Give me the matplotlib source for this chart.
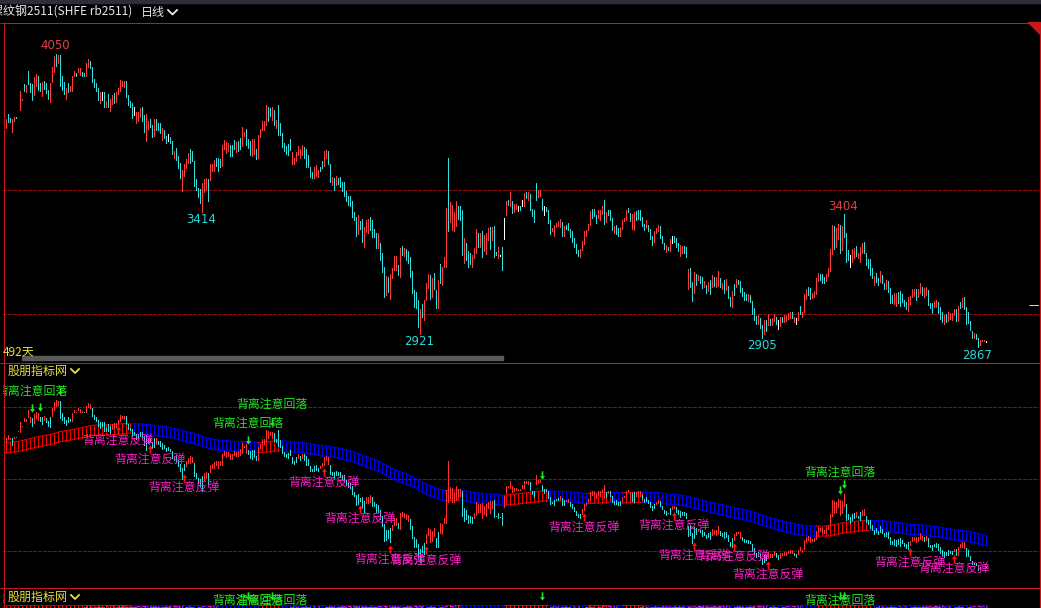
import numpy as np
import matplotlib
matplotlib.use("Agg")
import matplotlib.pyplot as plt
from matplotlib import transforms
from matplotlib.collections import LineCollection
from matplotlib.patches import Rectangle, Polygon
from matplotlib.path import Path

plt.rcParams["font.family"] = ["Noto Sans CJK SC", "DejaVu Sans"]
plt.rcParams["lines.scale_dashes"] = False

W, H = 1041, 608
PX = 0.72  # one pixel in points (dpi 100)

# ---------------- data (daily bars) ----------------
highs = [
    3786, 3807, 3791, 3786, 3797, 3797, 3838, 3901, 3870, 3928,
    3924, 3981, 3933, 3928, 3958, 3969, 3960, 3933, 3935, 3941,
    3931, 3906, 3933, 3996, 4041, 4050, 4046, 4046, 3962, 3938,
    3911, 3933, 3922, 3960, 3981, 3973, 3995, 3992, 3978, 3973,
    4014, 4030, 4023, 3996, 3951, 3933, 3911, 3897, 3897, 3897,
    3861, 3888, 3870, 3884, 3892, 3895, 3911, 3946, 3942, 3942,
    3942, 3884, 3861, 3851, 3834, 3816, 3814, 3830, 3834, 3803,
    3807, 3780, 3786, 3762, 3789, 3786, 3770, 3770, 3753, 3743,
    3719, 3726, 3716, 3699, 3658, 3672, 3640, 3610, 3581, 3608,
    3627, 3651, 3665, 3658, 3617, 3546, 3509, 3505, 3529, 3546,
    3550, 3546, 3604, 3608, 3621, 3631, 3631, 3627, 3681, 3702,
    3694, 3689, 3681, 3681, 3702, 3694, 3698, 3712, 3757, 3735,
    3746, 3705, 3698, 3705, 3705, 3667, 3725, 3748, 3780, 3780,
    3843, 3838, 3830, 3834, 3824, 3784, 3843, 3773, 3732, 3692,
    3678, 3685, 3705, 3654, 3631, 3654, 3678, 3667, 3681, 3675,
    3665, 3644, 3594, 3573, 3594, 3600, 3581, 3594, 3617, 3658,
    3662, 3658, 3604, 3554, 3550, 3559, 3550, 3554, 3532, 3532,
    3496, 3478, 3478, 3455, 3414, 3391, 3401, 3374, 3383, 3351,
    3381, 3383, 3391, 3381, 3343, 3329, 3326, 3289, 3248, 3189,
    3153, 3151, 3162, 3185, 3235, 3235, 3198, 3266, 3275, 3266,
    3262, 3256, 3229, 3175, 3099, 3090, 3056, 3022, 3040, 3059,
    3126, 3162, 3157, 3144, 3167, 3097, 3137, 3202, 3191, 3232,
    3428, 3631, 3451, 3441, 3414, 3455, 3437, 3437, 3421, 3306,
    3289, 3256, 3245, 3239, 3266, 3343, 3329, 3329, 3337, 3320,
    3329, 3347, 3351, 3351, 3356, 3251, 3270, 3239, 3272, 3387,
    3455, 3459, 3491, 3455, 3445, 3445, 3437, 3435, 3462, 3489,
    3492, 3492, 3483, 3424, 3422, 3530, 3500, 3500, 3465, 3438,
    3433, 3422, 3381, 3347, 3361, 3368, 3374, 3384, 3370, 3357,
    3361, 3368, 3343, 3334, 3307, 3284, 3260, 3262, 3297, 3334,
    3338, 3365, 3415, 3424, 3424, 3401, 3419, 3422, 3438, 3462,
    3411, 3422, 3422, 3388, 3354, 3361, 3347, 3351, 3378, 3388,
    3422, 3428, 3408, 3405, 3411, 3415, 3419, 3419, 3392, 3365,
    3381, 3361, 3343, 3316, 3334, 3347, 3361, 3354, 3314, 3289,
    3280, 3270, 3303, 3316, 3316, 3307, 3287, 3280, 3276, 3276,
    3270, 3181, 3185, 3131, 3171, 3162, 3158, 3154, 3148, 3135,
    3117, 3131, 3138, 3158, 3148, 3148, 3175, 3144, 3127, 3138,
    3140, 3113, 3070, 3094, 3121, 3140, 3138, 3135, 3104, 3090,
    3081, 3083, 3077, 3054, 3023, 2992, 2996, 2986, 2955, 2978,
    2975, 2999, 2982, 2986, 3002, 2989, 2975, 2989, 2989, 2996,
    2996, 3005, 3009, 3009, 2989, 2986, 3009, 3032, 3009, 3081,
    3100, 3108, 3104, 3086, 3094, 3144, 3167, 3162, 3162, 3148,
    3162, 3185, 3262, 3361, 3354, 3347, 3365, 3361, 3354, 3404,
    3329, 3259, 3239, 3262, 3266, 3275, 3248, 3273, 3289, 3293,
    3248, 3221, 3221, 3185, 3154, 3167, 3144, 3175, 3158, 3127,
    3138, 3135, 3104, 3077, 3086, 3084, 3091, 3095, 3081, 3059,
    3050, 3068, 3073, 3100, 3100, 3100, 3100, 3127, 3111, 3104,
    3108, 3097, 3046, 3046, 3054, 3059, 3050, 3030, 3009, 2996,
    3000, 3009, 3005, 3003, 3019, 3019, 3032, 3050, 3064, 3068,
    3027, 3009, 2973, 2932, 2924, 2919, 2905, 2895, 2895, 2895,
    2891,
]
lows = [
    3753, 3776, 3776, 3735, 3780, 3792, 3834, 3824, 3866, 3901,
    3897, 3928, 3895, 3865, 3884, 3922, 3906, 3901, 3881, 3908,
    3892, 3868, 3857, 3935, 3976, 4003, 4014, 3922, 3906, 3888,
    3870, 3895, 3901, 3901, 3960, 3962, 3978, 3965, 3960, 3960,
    3960, 3996, 3992, 3938, 3915, 3901, 3865, 3854, 3865, 3834,
    3834, 3834, 3820, 3847, 3851, 3857, 3888, 3901, 3922, 3915,
    3878, 3843, 3838, 3793, 3803, 3773, 3780, 3797, 3780, 3735,
    3699, 3749, 3757, 3716, 3719, 3743, 3743, 3730, 3703, 3712,
    3692, 3699, 3692, 3645, 3631, 3624, 3590, 3550, 3496, 3559,
    3590, 3611, 3611, 3617, 3519, 3502, 3473, 3448, 3414, 3492,
    3502, 3455, 3543, 3577, 3577, 3597, 3577, 3594, 3597, 3667,
    3651, 3658, 3638, 3640, 3665, 3654, 3658, 3665, 3678, 3719,
    3681, 3671, 3644, 3640, 3648, 3627, 3631, 3716, 3743, 3743,
    3762, 3780, 3800, 3784, 3762, 3753, 3725, 3721, 3675, 3658,
    3648, 3644, 3662, 3608, 3604, 3617, 3644, 3631, 3644, 3631,
    3594, 3594, 3554, 3550, 3550, 3559, 3554, 3577, 3590, 3597,
    3631, 3604, 3532, 3523, 3502, 3523, 3527, 3513, 3496, 3478,
    3455, 3442, 3437, 3394, 3378, 3316, 3324, 3343, 3293, 3272,
    3333, 3329, 3340, 3313, 3310, 3266, 3266, 3218, 3171, 3070,
    3076, 3090, 3063, 3144, 3178, 3180, 3157, 3151, 3239, 3235,
    3218, 3205, 3151, 3086, 3029, 3026, 2948, 2921, 2988, 2975,
    3056, 3107, 3063, 3070, 3103, 3026, 3026, 3124, 3117, 3189,
    3191, 3337, 3370, 3340, 3337, 3354, 3383, 3378, 3239, 3207,
    3218, 3191, 3202, 3191, 3225, 3248, 3270, 3270, 3229, 3256,
    3243, 3299, 3262, 3299, 3232, 3239, 3225, 3235, 3178, 3305,
    3401, 3440, 3435, 3410, 3414, 3424, 3418, 3421, 3435, 3435,
    3469, 3462, 3419, 3395, 3370, 3462, 3473, 3476, 3419, 3401,
    3415, 3368, 3324, 3334, 3316, 3351, 3354, 3351, 3316, 3316,
    3343, 3341, 3311, 3293, 3273, 3246, 3235, 3230, 3257, 3284,
    3316, 3338, 3361, 3388, 3397, 3368, 3388, 3381, 3406, 3365,
    3370, 3401, 3378, 3338, 3327, 3324, 3316, 3316, 3343, 3374,
    3381, 3411, 3374, 3343, 3341, 3378, 3384, 3378, 3357, 3338,
    3347, 3334, 3303, 3280, 3293, 3327, 3334, 3307, 3289, 3262,
    3249, 3260, 3253, 3287, 3293, 3270, 3253, 3235, 3246, 3246,
    3230, 3100, 3110, 3054, 3086, 3117, 3138, 3127, 3104, 3108,
    3086, 3094, 3081, 3108, 3113, 3108, 3113, 3108, 3100, 3086,
    3097, 3067, 3032, 3027, 3077, 3108, 3121, 3090, 3073, 3059,
    3059, 3054, 3050, 3000, 2975, 2959, 2962, 2946, 2905, 2921,
    2932, 2955, 2955, 2955, 2973, 2959, 2941, 2951, 2969, 2969,
    2973, 2982, 2986, 2986, 2969, 2959, 2975, 3002, 2989, 3009,
    3063, 3077, 3063, 3067, 3070, 3083, 3135, 3138, 3127, 3124,
    3135, 3154, 3175, 3243, 3262, 3270, 3302, 3246, 3259, 3311,
    3212, 3219, 3192, 3212, 3225, 3235, 3225, 3212, 3248, 3246,
    3198, 3185, 3158, 3144, 3117, 3131, 3117, 3131, 3124, 3100,
    3100, 3091, 3046, 3046, 3043, 3032, 3046, 3032, 3050, 3032,
    3019, 3013, 3041, 3068, 3073, 3059, 3068, 3084, 3077, 3068,
    3077, 3036, 3023, 3005, 3030, 3027, 3005, 2982, 2969, 2959,
    2969, 2973, 2982, 2978, 2996, 2973, 2973, 3023, 3027, 3019,
    2962, 2965, 2935, 2905, 2905, 2901, 2867, 2874, 2892, 2892,
    2888,
]
# r = up (red), c = down (cyan), w = flat (white)
dirs = (
    "rccrrcwrrc" "rcccrrccrc" "ccrrrcrccc" "rcrrrcrrcc" "rrcccccrwc"
    "rcrrcrrrrr" "ccccwrrrcc" "rrccrcccrc" "cwccrcccrr" "rrccccccrr"
    "rcrrrcccrr" "rrcccrccrr" "cccrrcrrrr" "rccrcrcccc" "cccrrrrrrc"
    "ccccrrrccr" "rccrcrcccc" "ccccccrccr" "rrccccrccc" "rcrrrrcrcr"
    "cccccccrcr" "rrcrccrcrr" "rcrrrrcccr" "cccrrrcrcr" "rrcrccrwcw"
    "rcrcrrwcwr" "crccccrrcw" "cccrrrrrcr" "cccccccrrr" "rrrcccrrrc"
    "rcccrccrrr" "rccrrccccc" "rcccrrrccc" "rcrwcccrrc" "crccrcrccr"
    "crcrcrrcrc" "rccrcrcccc" "crccccrccr" "crcrrcwrcr" "rrrcrwrcrr"
    "rccrrrrccc" "rrrrcrrcrc" "ccwrrcrrrc" "ccccrccrcc" "rcccrrcccc"
    "crrrrcrrcr" "rcccrrcccr" "crrrrcrcrc" "ccccrccrrr" "w"
)

peak_idx = [25, 419]
trough_idx = [98, 207, 378, 486]
grid_top = [3000, 3500]
grid_low = [3000, 3500, 4000]
ref_price = 3037

ema_seed = 3715
ema_span = 110
band_half = 35

rebound_idx = [56, 72, 89, 159, 177, 192, 210, 289, 334, 344, 364, 381, 452, 474]
fall_arrow_idx = [13, 17, 27, 121, 133, 268, 417, 419]
fall_text_idx = [13, 121, 133, 417]

title = "螺纹钢2511(SHFE rb2511)"
period = "日线"
days = "492天"
ind_name = "股朋指标网"
txt_rebound = "背离注意反弹"
txt_fall = "背离注意回落"

RED = "#ff3c3c"
CYAN = "#30e0e0"
WHITE = "#ffffff"
BORDER = "#c81818"
GRID = "#8c0c0c"
YEL = "#e6e03c"
MAG = "#ff1ec8"
GRN = "#22e622"

hi = np.array(highs, float)
lo = np.array(lows, float)
idx = np.arange(len(hi))

fig = plt.figure(figsize=(W / 100, H / 100), dpi=100, facecolor="black")


def panel(top, bottom, ylo, yhi):
    ax = fig.add_axes([3 / W, 1 - bottom / H, 1036 / W, (bottom - top) / H])
    ax.set_xlim(-1.25, 516.75)
    ax.set_ylim(ylo, yhi)
    ax.axis("off")
    return ax


def off(ax, dy):
    return transforms.offset_copy(ax.transData, fig=fig, x=0, y=dy, units="dots")


def clip(t, ax):
    t.set_clip_on(True)
    t.set_clip_box(ax.bbox)


ax1 = panel(22, 362, 2807, 4179)
ax2 = panel(362, 587, 2748, 4310)
ax3 = panel(587, 608, 0, 1)

# ---------------- price panel ----------------
for v in grid_top:
    ax1.axhline(v, color=GRID, lw=PX, ls=(0, (3 * PX, 2 * PX)), antialiased=False)
cmap = {"r": RED, "c": CYAN, "w": WHITE}
ax1.vlines(idx, lo, hi, colors=[cmap[d] for d in dirs], lw=PX, antialiased=False)
for i in peak_idx:
    ax1.annotate(f"{highs[i]}", (i, highs[i]), xytext=(0, 8), textcoords="offset pixels",
                 ha="center", va="center", color="#e84040", fontsize=8.5, family="DejaVu Sans")
for i in trough_idx:
    ax1.annotate(f"{lows[i]}", (i, lows[i]), xytext=(0, -8), textcoords="offset pixels",
                 ha="center", va="center", color="#2ad8d8", fontsize=8.5, family="DejaVu Sans")
ax1.hlines(ref_price, 511.5, 516.5, color=YEL, lw=PX)

# ---------------- indicator panel ----------------
for v in grid_low:
    ax2.axhline(v, color=GRID, lw=PX, ls=(0, (3 * PX, 2 * PX)), antialiased=False)

mid = (hi + lo) / 2
a = 2 / (ema_span + 1)
band = np.empty_like(mid)
e = ema_seed
for i, m in enumerate(mid):
    e += a * (m - e)
    band[i] = e
bcol = np.where(mid > band, "#ff0000", "#0000ff")
h = idx[::2]
ax2.vlines(h, band[h] - band_half, band[h] + band_half, colors=bcol[h], lw=PX, antialiased=False)
for edge in (band - band_half, band + band_half):
    segs = np.stack([np.column_stack([idx[:-1], edge[:-1]]),
                     np.column_stack([idx[1:], edge[1:]])], axis=1)
    ax2.add_collection(LineCollection(segs, colors=bcol[1:], linewidths=PX))

fast = np.empty_like(mid)
e = mid[0]
for i, m in enumerate(mid):
    e += (2 / 6) * (m - e)
    fast[i] = e
tcol = np.where(mid >= fast, "#ff3030", CYAN)
ax2.vlines(idx, lo, hi, colors=tcol, lw=PX, linestyles=(0, (PX, PX)), antialiased=False)

UP = Path([(0, 1), (0.6, 0.15), (0.2, 0.15), (0.2, -1), (-0.2, -1), (-0.2, 0.15), (-0.6, 0.15), (0, 1)])
DOWN = Path([(x, -y) for x, y in UP.vertices])

for i in rebound_idx:
    ax2.plot(i, lows[i], marker=UP, ms=6, color="#ff1010", mec="none", transform=off(ax2, -7.5))
    t = ax2.text(i, lows[i], txt_rebound, transform=off(ax2, -17), ha="center", va="center",
                 color=MAG, fontsize=8.6)
    clip(t, ax2)
for i in fall_arrow_idx:
    ax2.plot(i, highs[i], marker=DOWN, ms=6, color=GRN, mec="none", transform=off(ax2, 9))
for i in fall_text_idx:
    t = ax2.text(i, highs[i], txt_fall, transform=off(ax2, 26), ha="center", va="center",
                 color=GRN, fontsize=8.6)
    clip(t, ax2)

# ---------------- next panel strip (mostly hidden) ----------------
for i in fall_text_idx:
    t = ax3.text(i, 0.38, txt_fall, ha="center", va="center", color=GRN, fontsize=8.6)
    clip(t, ax3)
for i in fall_arrow_idx:
    ax3.plot(i, 0.55, marker=DOWN, ms=6, color=GRN, mec="none")
for i in rebound_idx:
    t = ax3.text(i, -0.22, txt_rebound, ha="center", va="center", color=MAG, fontsize=8.6)
    clip(t, ax3)
ax3.vlines(h, 0, 0.12, colors=bcol[h], lw=PX, antialiased=False)
segs = np.stack([np.column_stack([idx[:-1], np.full(len(idx) - 1, 0.16)]),
                 np.column_stack([idx[1:], np.full(len(idx) - 1, 0.16)])], axis=1)
ax3.add_collection(LineCollection(segs, colors=bcol[1:], linewidths=PX))

# ---------------- frame, header, labels ----------------
ov = fig.add_axes([0, 0, 1, 1], zorder=10)
ov.set_xlim(0, W)
ov.set_ylim(H, 0)
ov.axis("off")
ov.add_patch(Rectangle((0, 0), W, 3, color="#2c2f36"))
ov.hlines([22.5, 362.5, 587.5], 0, 1039.5, color=BORDER, lw=PX)
ov.vlines([3.5, 1039.5], 22.5, H, color=BORDER, lw=PX)
ov.add_patch(Polygon([(1028, 22), (1040, 22), (1040, 34)], color=BORDER))

ov.text(-9, 12.5, title, color="#e8e8e8", fontsize=8.64, ha="left", va="center")
ov.text(141, 12.5, period, color="#e8e8e8", fontsize=8.64, ha="left", va="center")
ov.plot([168, 172.5, 177], [10, 14.5, 10], color="#e8e8e8", lw=1.3)

ov.text(3, 352.5, days, color=YEL, fontsize=8.64, ha="left", va="center")
ov.add_patch(Rectangle((22, 356), 481, 4, color="#5a5a5a"))

for y in (371, 597):
    ov.add_patch(Rectangle((5, y - 7), 78, 14, color="black"))
    ov.text(8, y, ind_name, color=YEL, fontsize=8.64, ha="left", va="center")
    ov.plot([71, 75, 79], [y - 2, y + 2, y - 2], color=YEL, lw=1.3)

fig.savefig("out.png", dpi=100, facecolor="black")
